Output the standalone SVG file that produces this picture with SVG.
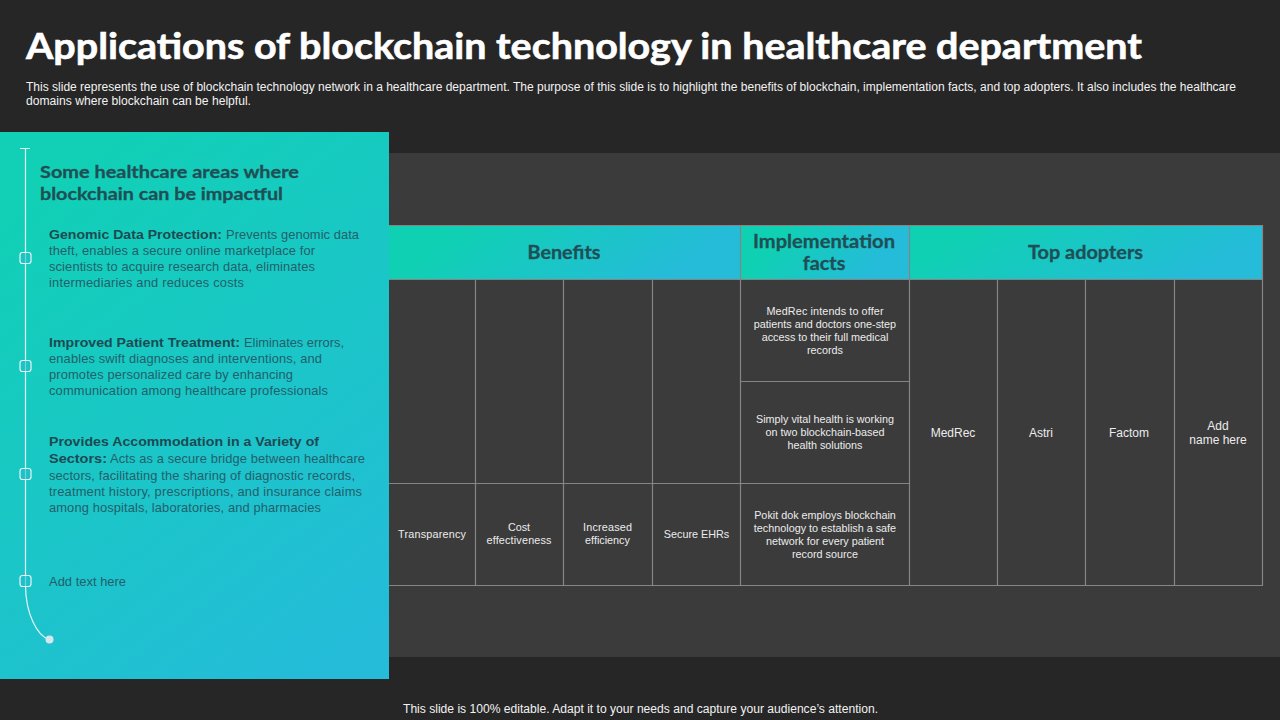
<svg xmlns="http://www.w3.org/2000/svg" width="1280" height="720" viewBox="0 0 1280 720">
<style>
text{font-family:"Liberation Sans",Arial,sans-serif}
.h{font-family:Lato,"Liberation Sans",sans-serif;font-weight:700}
.sub{font-size:12px;fill:#f2f2f2}
.hd{font-size:19.8px;fill:#1f4f55;text-anchor:middle;stroke:#1f4f55;stroke-width:.3}
.pt{font-size:12.9px;fill:#22606a}
.b{font-weight:700;fill:#1d4a52}
.c{font-size:10.8px;fill:#ececec;text-anchor:middle}
.c2{font-size:12px;fill:#ececec;text-anchor:middle}
.g{stroke:#858585;stroke-width:1.2;fill:none}
.tick{fill:#22bcc8;fill-opacity:.6;stroke:#e4f7f7;stroke-width:1.2}
.w{stroke:#e4f7f7;stroke-width:1.2;fill:none}
</style>
<defs>
<linearGradient id="pg" gradientUnits="userSpaceOnUse" x1="30" y1="200" x2="360" y2="640"><stop offset="0" stop-color="#11d0b6"/><stop offset="1" stop-color="#24bcd9"/></linearGradient>
<linearGradient id="h1" gradientUnits="userSpaceOnUse" x1="520" y1="190" x2="610" y2="315"><stop offset="0" stop-color="#10d0b4"/><stop offset="1" stop-color="#24bcd8"/></linearGradient>
<linearGradient id="h2" gradientUnits="userSpaceOnUse" x1="790" y1="225" x2="860" y2="280"><stop offset="0" stop-color="#10d0b4"/><stop offset="1" stop-color="#24bcd8"/></linearGradient>
<linearGradient id="h3" gradientUnits="userSpaceOnUse" x1="1050" y1="190" x2="1120" y2="315"><stop offset="0" stop-color="#10d0b4"/><stop offset="1" stop-color="#24bcd8"/></linearGradient>
</defs>
<rect width="1280" height="720" fill="#262626"/>
<rect x="380" y="153" width="900" height="504" fill="#3b3b3b"/>
<g id="title">
<text class="h" x="26" y="59" font-size="36" fill="#fff" stroke="#fff" stroke-width=".6" textLength="1116" lengthAdjust="spacingAndGlyphs">Applications of blockchain technology in healthcare department</text>
<text class="sub" x="26" y="91" textLength="1210" lengthAdjust="spacingAndGlyphs">This slide represents the use of blockchain technology network in a healthcare department. The purpose of this slide is to highlight the benefits of blockchain, implementation facts, and top adopters. It also includes the healthcare</text>
<text class="sub" x="26" y="105" textLength="225" lengthAdjust="spacingAndGlyphs">domains where blockchain can be helpful.</text>
</g>
<g id="table">
<rect x="389" y="225" width="352" height="55" fill="url(#h1)"/>
<rect x="741" y="225" width="168" height="55" fill="url(#h2)"/>
<rect x="909" y="225" width="354" height="55" fill="url(#h3)"/>
<path class="g" d="M389 225.500H1262.500V585.500H389M389 279.500H1262.500M389 483.500H909M741 381.500H909M475.500 280V585M563.500 280V585M652.500 280V585M740.500 225V585M909.500 225V585M997.500 280V585M1085.500 280V585M1174.500 280V585"/>
</g>
<g id="header-benefits"><text class="h hd" x="564" y="259">Benefits</text></g>
<g id="header-facts"><text class="h hd" x="824" y="248" textLength="142" lengthAdjust="spacingAndGlyphs">Implementation</text><text class="h hd" x="824" y="270">facts</text></g>
<g id="header-adopters"><text class="h hd" x="1085.500" y="259" textLength="115" lengthAdjust="spacingAndGlyphs">Top adopters</text></g>
<g id="fact-1"><text class="c" x="825" y="315" textLength="117" lengthAdjust="spacing">MedRec intends to offer</text><text class="c" x="825" y="328">patients and doctors one-step</text><text class="c" x="825" y="341">access to their full medical</text><text class="c" x="825" y="354">records</text></g>
<g id="fact-2"><text class="c" x="825" y="423">Simply vital health is working</text><text class="c" x="825" y="436">on two blockchain-based</text><text class="c" x="825" y="449">health solutions</text></g>
<g id="fact-3"><text class="c" x="825" y="519">Pokit dok employs blockchain</text><text class="c" x="825" y="532">technology to establish a safe</text><text class="c" x="825" y="545">network for every patient</text><text class="c" x="825" y="558">record source</text></g>
<g id="benefit-1"><text class="c" x="432" y="538" textLength="68" lengthAdjust="spacing">Transparency</text></g>
<g id="benefit-2"><text class="c" x="519" y="531">Cost</text><text class="c" x="519" y="544" textLength="65" lengthAdjust="spacing">effectiveness</text></g>
<g id="benefit-3"><text class="c" x="607.500" y="531" textLength="49" lengthAdjust="spacing">Increased</text><text class="c" x="607.500" y="544">efficiency</text></g>
<g id="benefit-4"><text class="c" x="696.500" y="538">Secure EHRs</text></g>
<g id="adopter-1"><text class="c2" x="953" y="437">MedRec</text></g>
<g id="adopter-2"><text class="c2" x="1041" y="437">Astri</text></g>
<g id="adopter-3"><text class="c2" x="1129" y="437">Factom</text></g>
<g id="adopter-4"><text class="c2" x="1218" y="430">Add</text><text class="c2" x="1218" y="444">name here</text></g>
<g id="panel">
<rect x="0" y="132" width="389" height="547" fill="url(#pg)"/>
<text class="h" x="40" y="178" font-size="17.8" fill="#1f4f55" stroke="#1f4f55" stroke-width=".3" textLength="259" lengthAdjust="spacingAndGlyphs">Some healthcare areas where</text>
<text class="h" x="40" y="200" font-size="17.8" fill="#1f4f55" stroke="#1f4f55" stroke-width=".3" textLength="243" lengthAdjust="spacingAndGlyphs">blockchain can be impactful</text>
</g>
<g id="connectors">
<path class="w" d="M20 148.500H30M25.500 148.500V585C25.500 615 38 636 49 639.500"/>
</g>
<g id="item-1">
<rect class="tick" x="20" y="252.500" width="11" height="11" rx="2.500"/>
<text class="pt b" x="49" y="239" textLength="173" lengthAdjust="spacingAndGlyphs">Genomic Data Protection:</text>
<text class="pt" x="226" y="239" textLength="133" lengthAdjust="spacing">Prevents genomic data</text>
<text class="pt" x="49" y="255" textLength="266" lengthAdjust="spacing">theft, enables a secure online marketplace for</text>
<text class="pt" x="49" y="271" textLength="266" lengthAdjust="spacing">scientists to acquire research data, eliminates</text>
<text class="pt" x="49" y="287" textLength="195" lengthAdjust="spacing">intermediaries and reduces costs</text>
</g>
<g id="item-2">
<rect class="tick" x="20" y="360.500" width="11" height="11" rx="2.500"/>
<text class="pt b" x="49" y="347" textLength="191" lengthAdjust="spacingAndGlyphs">Improved Patient Treatment:</text>
<text class="pt" x="244" y="347" textLength="100" lengthAdjust="spacing">Eliminates errors,</text>
<text class="pt" x="49" y="363" textLength="273" lengthAdjust="spacing">enables swift diagnoses and interventions, and</text>
<text class="pt" x="49" y="379" textLength="244" lengthAdjust="spacing">promotes personalized care by enhancing</text>
<text class="pt" x="49" y="395" textLength="279" lengthAdjust="spacing">communication among healthcare professionals</text>
</g>
<g id="item-3">
<rect class="tick" x="20" y="468.500" width="11" height="11" rx="2.500"/>
<text class="pt b" x="49" y="446" textLength="270" lengthAdjust="spacingAndGlyphs">Provides Accommodation in a Variety of</text>
<text class="pt b" x="49" y="463" textLength="58" lengthAdjust="spacingAndGlyphs">Sectors:</text>
<text class="pt" x="110" y="463" textLength="255" lengthAdjust="spacing">Acts as a secure bridge between healthcare</text>
<text class="pt" x="49" y="480" textLength="306" lengthAdjust="spacing">sectors, facilitating the sharing of diagnostic records,</text>
<text class="pt" x="49" y="496" textLength="313" lengthAdjust="spacing">treatment history, prescriptions, and insurance claims</text>
<text class="pt" x="49" y="512" textLength="272" lengthAdjust="spacing">among hospitals, laboratories, and pharmacies</text>
</g>
<g id="item-4">
<rect class="tick" x="20" y="575.500" width="11" height="11" rx="2.500"/>
<text class="pt" x="49" y="586" textLength="77" lengthAdjust="spacing">Add text here</text>
</g>
<circle id="end-dot" cx="49.500" cy="639.500" r="4" fill="#d9e6ee"/>
<g id="footer"><text x="640.500" y="713" font-size="12" fill="#f2f2f2" text-anchor="middle" textLength="475" lengthAdjust="spacingAndGlyphs">This slide is 100% editable. Adapt it to your needs and capture your audience’s attention.</text></g>
</svg>
